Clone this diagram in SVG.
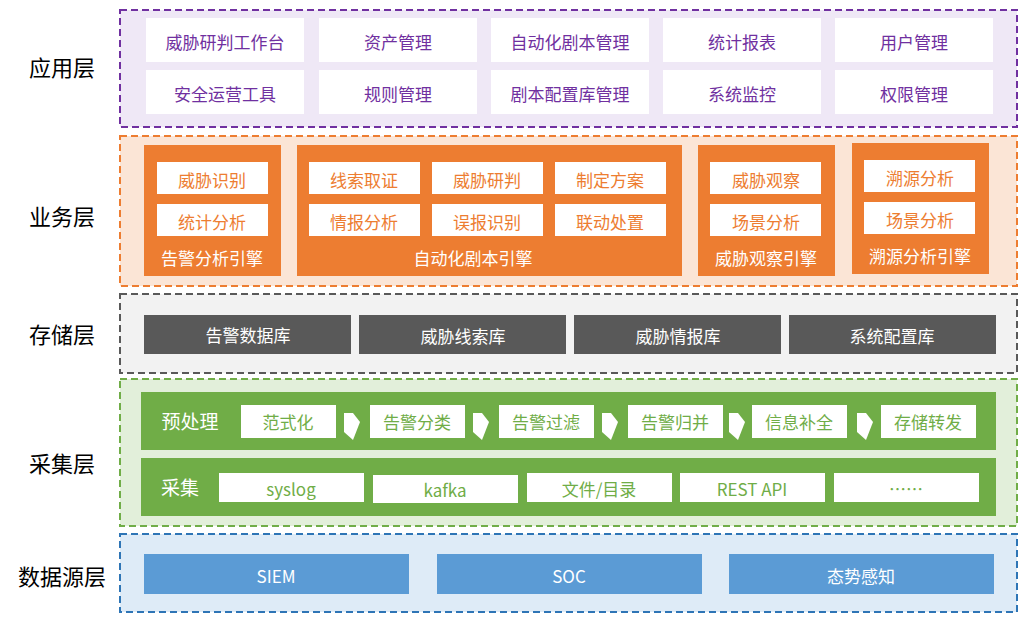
<svg xmlns="http://www.w3.org/2000/svg" width="1025" height="621" viewBox="0 0 1025 621">
<style>
text{font-family:"Noto Sans CJK SC","Liberation Sans",sans-serif;text-anchor:middle;dominant-baseline:central}
.lay{stroke-width:2;stroke-dasharray:7,4}
.ll{font-size:22px;fill:#000}
.w{fill:#fff}
.pt{font-size:17px;fill:#7030a0}
.ot{font-size:17px;fill:#ed7d31}
.og{fill:#ed7d31}
.wt{font-size:17px;fill:#fff}
.gt{font-size:17px;fill:#70ad47}
.gr{fill:#70ad47}
</style>
<rect width="1025" height="621" fill="#fff"/>
<g id="labels">
<text class="ll" x="62" y="66">应用层</text>
<text class="ll" x="62" y="215">业务层</text>
<text class="ll" x="62" y="333">存储层</text>
<text class="ll" x="62" y="462">采集层</text>
<text class="ll" x="62" y="575">数据源层</text>
</g>
<g id="app">
<rect class="lay" x="120" y="10" width="897" height="117" fill="#efe8f6" stroke="#7030a0"/>
<rect class="w" x="146" y="18" width="158" height="44"/><text class="pt" x="225" y="41">威胁研判工作台</text>
<rect class="w" x="319" y="18" width="158" height="44"/><text class="pt" x="398" y="41">资产管理</text>
<rect class="w" x="491" y="18" width="158" height="44"/><text class="pt" x="570" y="41">自动化剧本管理</text>
<rect class="w" x="663" y="18" width="158" height="44"/><text class="pt" x="742" y="41">统计报表</text>
<rect class="w" x="835" y="18" width="158" height="44"/><text class="pt" x="914" y="41">用户管理</text>
<rect class="w" x="146" y="70" width="158" height="44"/><text class="pt" x="225" y="93">安全运营工具</text>
<rect class="w" x="319" y="70" width="158" height="44"/><text class="pt" x="398" y="93">规则管理</text>
<rect class="w" x="491" y="70" width="158" height="44"/><text class="pt" x="570" y="93">剧本配置库管理</text>
<rect class="w" x="663" y="70" width="158" height="44"/><text class="pt" x="742" y="93">系统监控</text>
<rect class="w" x="835" y="70" width="158" height="44"/><text class="pt" x="914" y="93">权限管理</text>
</g>
<g id="biz">
<rect class="lay" x="120" y="136" width="897" height="150" fill="#fbe5d6" stroke="#ed7d31"/>
<rect class="og" x="144" y="145" width="137" height="131"/>
<rect class="w" x="157" y="162" width="111" height="32"/><text class="ot" x="212" y="179">威胁识别</text>
<rect class="w" x="157" y="204" width="111" height="32"/><text class="ot" x="212" y="221">统计分析</text>
<text class="wt" x="212" y="257">告警分析引擎</text>
<rect class="og" x="297" y="145" width="385" height="131"/>
<rect class="w" x="309" y="162" width="111" height="32"/><text class="ot" x="364" y="179">线索取证</text>
<rect class="w" x="432" y="162" width="111" height="32"/><text class="ot" x="487" y="179">威胁研判</text>
<rect class="w" x="555" y="162" width="111" height="32"/><text class="ot" x="610" y="179">制定方案</text>
<rect class="w" x="309" y="204" width="111" height="32"/><text class="ot" x="364" y="221">情报分析</text>
<rect class="w" x="432" y="204" width="111" height="32"/><text class="ot" x="487" y="221">误报识别</text>
<rect class="w" x="555" y="204" width="111" height="32"/><text class="ot" x="610" y="221">联动处置</text>
<text class="wt" x="473" y="257">自动化剧本引擎</text>
<rect class="og" x="698" y="145" width="137" height="131"/>
<rect class="w" x="710" y="162" width="111" height="32"/><text class="ot" x="766" y="179">威胁观察</text>
<rect class="w" x="710" y="204" width="111" height="32"/><text class="ot" x="766" y="221">场景分析</text>
<text class="wt" x="766" y="257">威胁观察引擎</text>
<rect class="og" x="852" y="143" width="137" height="131"/>
<rect class="w" x="864" y="160" width="111" height="32"/><text class="ot" x="920" y="177">溯源分析</text>
<rect class="w" x="864" y="202" width="111" height="32"/><text class="ot" x="920" y="219">场景分析</text>
<text class="wt" x="920" y="255">溯源分析引擎</text>
</g>
<g id="store">
<rect class="lay" x="120" y="294" width="897" height="79" fill="#f2f2f2" stroke="#595959"/>
<rect x="144" y="315" width="207" height="39" fill="#595959"/><text class="wt" x="248" y="334">告警数据库</text>
<rect x="359" y="315" width="207" height="39" fill="#595959"/><text class="wt" x="463" y="335">威胁线索库</text>
<rect x="574" y="315" width="207" height="39" fill="#595959"/><text class="wt" x="678" y="335">威胁情报库</text>
<rect x="789" y="315" width="207" height="39" fill="#595959"/><text class="wt" x="892" y="335">系统配置库</text>
</g>
<g id="collect">
<rect class="lay" x="120" y="379" width="897" height="147" fill="#e2efda" stroke="#70ad47"/>
<rect class="gr" x="141" y="392" width="855" height="58"/>
<text class="wt" x="190" y="420" style="font-size:19px">预处理</text>
<rect class="w" x="241" y="405" width="95" height="33"/><text class="gt" x="288" y="421">范式化</text>
<rect class="w" x="370" y="405" width="95" height="33"/><text class="gt" x="417" y="421">告警分类</text>
<rect class="w" x="499" y="405" width="95" height="33"/><text class="gt" x="546" y="421">告警过滤</text>
<rect class="w" x="628" y="405" width="95" height="33"/><text class="gt" x="675" y="421">告警归并</text>
<rect class="w" x="752" y="405" width="95" height="33"/><text class="gt" x="799" y="421">信息补全</text>
<rect class="w" x="881" y="405" width="95" height="33"/><text class="gt" x="928" y="421">存储转发</text>
<rect class="gr" x="141" y="458" width="855" height="58"/>
<text class="wt" x="180" y="486" style="font-size:19px">采集</text>
<rect class="w" x="219" y="473" width="145" height="29"/><text class="gt" x="291" y="488">syslog</text>
<rect class="w" x="373" y="475" width="145" height="28"/><text class="gt" x="445" y="489">kafka</text>
<rect class="w" x="527" y="473" width="145" height="29"/><text class="gt" x="599" y="488">文件/目录</text>
<rect class="w" x="680" y="473" width="145" height="29"/><text class="gt" x="752" y="488">REST API</text>
<rect class="w" x="834" y="473" width="145" height="29"/><text class="gt" x="906" y="488">……</text>
</g>
<g id="src">
<rect class="lay" x="120" y="534" width="897" height="78" fill="#deebf7" stroke="#2e75b6"/>
<rect x="144" y="554" width="265" height="40" fill="#5b9bd5"/><text class="wt" x="276" y="575">SIEM</text>
<rect x="437" y="554" width="265" height="40" fill="#5b9bd5"/><text class="wt" x="569" y="575">SOC</text>
<rect x="729" y="554" width="265" height="40" fill="#5b9bd5"/><text class="wt" x="861" y="575">态势感知</text>
</g>
<g id="connectors" fill="#fff">
<polygon points="344,413 353,413 360,422 353,440 344,432"/>
<polygon points="473,413 482,413 489,422 482,440 473,432" transform="translate(0,0)"/>
<polygon points="602,413 611,413 618,422 611,440 602,432"/>
<polygon points="729,413 738,413 745,422 738,440 729,432"/>
<polygon points="857,413 866,413 873,422 866,440 857,432"/>
</g>
</svg>
